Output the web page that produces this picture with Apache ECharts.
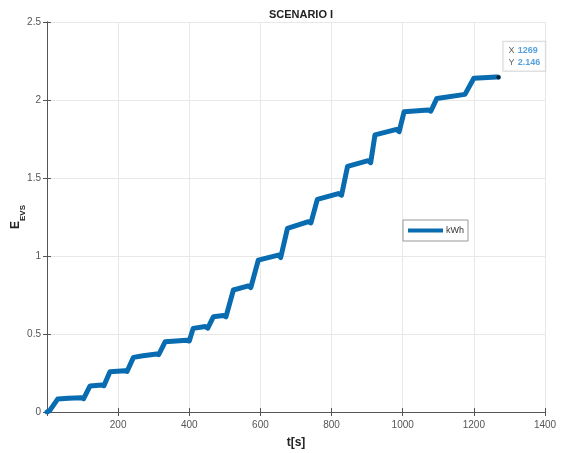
<!DOCTYPE html>
<html><head><meta charset="utf-8">
<script src="https://cdn.jsdelivr.net/npm/echarts@6/dist/echarts.min.js"></script>
<style>html,body{margin:0;padding:0;background:#fff}#c{width:562px;height:453px}</style>
</head><body><div id="c"></div>
<script>
// time [s]
const tValues = [0, 8, 30, 60, 97, 103, 121, 154, 160, 177, 219, 225, 243, 270, 308, 314, 332, 393, 400, 411, 445, 452, 468, 496, 503, 524, 566, 573, 594, 650, 657, 676, 735, 742, 760, 819, 828, 845, 903, 910, 922, 983, 990, 1004, 1072, 1079, 1096, 1175, 1180, 1200, 1264, 1269];
// energy [kWh]
const eValues = [0, 0.01, 0.083, 0.088, 0.092, 0.085, 0.167, 0.173, 0.168, 0.258, 0.265, 0.26, 0.35, 0.36, 0.372, 0.367, 0.45, 0.46, 0.455, 0.536, 0.548, 0.538, 0.611, 0.618, 0.61, 0.782, 0.808, 0.798, 0.974, 1.006, 0.99, 1.177, 1.22, 1.212, 1.363, 1.40, 1.39, 1.575, 1.611, 1.598, 1.776, 1.812, 1.797, 1.925, 1.936, 1.928, 2.01, 2.036, 2.026, 2.139, 2.148, 2.146];
const tipPoint = [1269, 2.146];
const xTicks = [0, 200, 400, 600, 800, 1000, 1200, 1400];
const yTicks = [0, 0.5, 1, 1.5, 2, 2.5];

const lineData = tValues.map((t, i) => [t, eValues[i]]);
const font = 'Liberation Sans, Arial, sans-serif';
const axisCol = '#555';
const chart = echarts.init(document.getElementById('c'));
const baseX = {
  type: 'value', min: xTicks[0], max: xTicks[xTicks.length - 1], interval: 200,
  axisLine: { show: true, lineStyle: { color: axisCol, width: 1 } },
  axisTick: { show: true, inside: true, length: 4, lineStyle: { color: axisCol } },
};
const baseY = {
  type: 'value', min: yTicks[0], max: yTicks[yTicks.length - 1], interval: 0.5,
  axisLine: { show: true, lineStyle: { color: axisCol, width: 1 } },
  axisTick: { show: true, inside: true, length: 4, lineStyle: { color: axisCol } },
};
chart.setOption({
  animation: false,
  backgroundColor: '#fff',
  title: { text: 'SCENARIO I', left: 296, top: 4, textAlign: 'center',
    textStyle: { fontFamily: font, fontSize: 11, fontWeight: 'bold', color: '#222' } },
  grid: { left: 47, right: 17, top: 22, bottom: 41, containLabel: false, outerBoundsMode: 'none' },
  legend: {
    data: ['kWh'], left: 403, top: 220, orient: 'vertical',
    icon: 'rect', itemWidth: 35, itemHeight: 4,
    borderColor: '#999', borderWidth: 1, padding: [6, 4, 6, 5],
    backgroundColor: '#fff',
    textStyle: { fontFamily: font, fontSize: 9, color: '#333', padding: [0, 0, 0, -2] }
  },
  xAxis: [
    Object.assign({}, baseX, {
      position: 'bottom',
      name: 't[s]', nameLocation: 'middle', nameGap: 25, nameMoveOverlap: false,
      nameTextStyle: { fontFamily: font, fontSize: 12, fontWeight: 'bold', color: '#222' },
      axisLabel: { fontFamily: font, fontSize: 10, color: '#555', margin: 8, showMinLabel: false, formatter: v => String(v) },
      splitLine: { show: true, lineStyle: { color: '#e8e8e8', width: 1 } }
    }),
    Object.assign({}, baseX, { position: 'top', axisLabel: { show: false }, splitLine: { show: false } })
  ],
  yAxis: [
    Object.assign({}, baseY, {
      position: 'left',
      name: '{a|E}{b|EVS}', nameLocation: 'middle', nameGap: 25, nameRotate: 90, nameMoveOverlap: false,
      nameTextStyle: { rich: {
        a: { fontFamily: font, fontSize: 12, fontWeight: 'bold', color: '#222', verticalAlign: 'bottom', lineHeight: 16 },
        b: { fontFamily: font, fontSize: 8, fontWeight: 'bold', color: '#222', verticalAlign: 'bottom', lineHeight: 16, padding: [0, 0, -5, 0] }
      } },
      axisLabel: { fontFamily: font, fontSize: 10, color: '#555', margin: 6, formatter: v => String(v) },
      splitLine: { show: true, lineStyle: { color: '#e8e8e8', width: 1 } }
    }),
    Object.assign({}, baseY, { position: 'right', axisLabel: { show: false }, splitLine: { show: false } })
  ],
  series: [
    {
      name: 'kWh', type: 'line', data: lineData, showSymbol: false, symbol: 'none',
      lineStyle: { color: '#0a6cb0', width: 5, join: 'round', cap: 'round' },
      itemStyle: { color: '#0a6cb0' }
    },
    {
      name: 'tip', type: 'scatter', data: [tipPoint], symbolSize: 4, z: 5,
      itemStyle: { color: '#111' },
      label: {
        show: true, position: 'right', offset: [-2, -21],
        formatter: p => '{k|X} {v|' + p.value[0] + '}\n{k|Y} {v|' + p.value[1] + '}',
        backgroundColor: '#fff', borderColor: '#ccc', borderWidth: 1,
        padding: [3, 5, 2, 5],
        rich: {
          k: { fontFamily: font, fontSize: 9, color: '#333', lineHeight: 11 },
          v: { fontFamily: font, fontSize: 9, fontWeight: 'bold', color: '#2a8ad6', lineHeight: 11 }
        }
      }
    }
  ]
});
</script></body></html>
